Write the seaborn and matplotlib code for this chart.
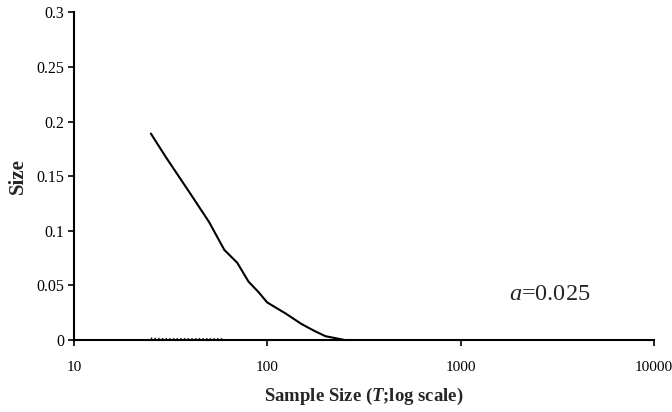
import numpy as np
import pandas as pd
import matplotlib
matplotlib.use("Agg")
import matplotlib.pyplot as plt
import seaborn as sns

# --- data ---
sample_size = [25, 30, 40, 50, 60, 70, 80, 90, 100, 125, 150, 175, 200, 250]
size_solid = [0.189, 0.167, 0.134, 0.108, 0.0824, 0.0706, 0.0534, 0.0439,
              0.0343, 0.024, 0.0147, 0.0083, 0.0034, 0.0]

sample_size_dot = [25, 30, 40, 50, 60]
size_dotted = [0.0015, 0.001, 0.001, 0.001, 0.001]

x_ticks = [10, 100, 1000, 10000]
y_ticks = [0, 0.05, 0.1, 0.15, 0.2, 0.25, 0.3]

# --- style ---
sns.set_style("white")
plt.rcParams.update({
    "font.family": ["Liberation Serif", "DejaVu Serif"],
    "mathtext.fontset": "custom",
    "mathtext.rm": "Liberation Serif",
    "mathtext.it": "Liberation Serif:italic",
    "mathtext.bf": "Liberation Serif:bold",
    "mathtext.bfit": "Liberation Serif:italic:bold",
})

fig = plt.figure(figsize=(6.72, 4.12), dpi=100)
ax = fig.add_axes([0.110, 0.175, 0.863, 0.795])

df = pd.DataFrame({"T": sample_size, "Size": size_solid})
df_dot = pd.DataFrame({"T": sample_size_dot, "Size": size_dotted})

sns.lineplot(data=df, x="T", y="Size", color="black", linewidth=1.5, ax=ax)
sns.lineplot(data=df_dot, x="T", y="Size", color="black", linewidth=1.0,
             linestyle=":", ax=ax)

ax.set_xscale("log")
ax.set_xlim(10, 10000)
ax.set_ylim(0, 0.3)
ax.set_xticks(x_ticks)
ax.set_xticklabels([str(t) for t in x_ticks])
ax.xaxis.set_minor_locator(matplotlib.ticker.NullLocator())
ax.set_yticks(y_ticks)
ax.set_yticklabels(["0", "0.05", "0.1", "0.15", "0.2", "0.25", "0.3"])

for side in ["top", "right"]:
    ax.spines[side].set_visible(False)
for side in ["left", "bottom"]:
    ax.spines[side].set_color("black")
    ax.spines[side].set_linewidth(1.5)

ax.tick_params(axis="both", direction="out", length=4, width=1.2,
               color="black", labelcolor="black")
ax.tick_params(axis="x", pad=11, labelsize=11)
ax.tick_params(axis="y", pad=3, labelsize=11.5)
ax.tick_params(left=True, bottom=True)

ax.set_xlabel(r"Sample Size ($\mathbfit{T}$;log scale)", fontsize=13.5,
              fontweight="bold", labelpad=9)
ax.set_ylabel("Size", fontsize=15, fontweight="bold", labelpad=6)

ax.text(0.82, 0.14, r"$a$=0.025", transform=ax.transAxes, fontsize=17.5,
        ha="center", va="center")

ax.grid(False)
fig.savefig("out.png", dpi=100)
